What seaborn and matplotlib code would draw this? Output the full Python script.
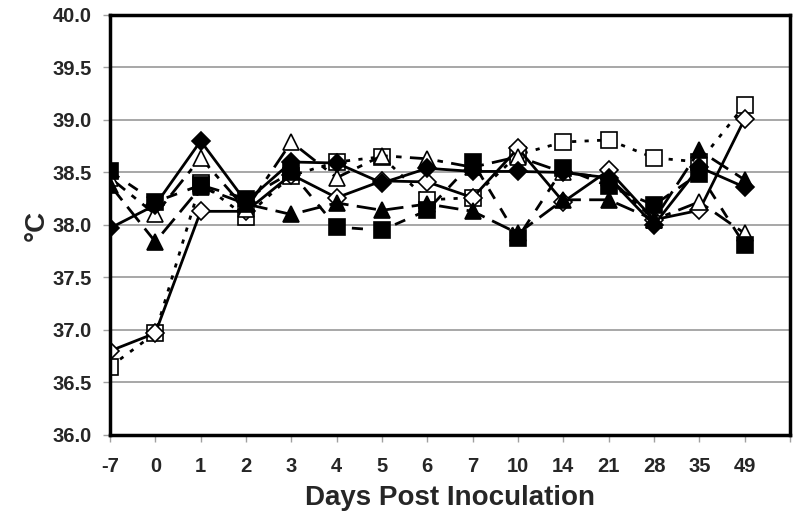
import numpy as np
import pandas as pd
import seaborn as sns
import matplotlib.pyplot as plt

days = ["-7", "0", "1", "2", "3", "4", "5", "6", "7", "10", "14", "21", "28", "35", "49"]

open_square = [36.65, 36.97, 38.40, 38.08, 38.47, 38.60, 38.65, 38.24, 38.26, 38.67, 38.79, 38.81, 38.64, 38.60, 39.14]
open_diamond = [36.80, 36.97, 38.13, 38.13, 38.48, 38.26, 38.42, 38.41, 38.26, 38.73, 38.22, 38.52, 38.05, 38.14, 39.01]
open_triangle = [38.45, 38.10, 38.64, 38.15, 38.79, 38.45, 38.66, 38.63, 38.55, 38.65, 38.50, 38.45, 38.05, 38.22, 37.92]
filled_triangle = [38.38, 37.84, 38.36, 38.20, 38.10, 38.21, 38.14, 38.20, 38.13, 37.92, 38.24, 38.24, 38.05, 38.71, 38.43]
filled_square = [38.51, 38.22, 38.38, 38.25, 38.50, 37.98, 37.95, 38.14, 38.60, 37.88, 38.54, 38.37, 38.19, 38.49, 37.81]
filled_diamond = [37.97, 38.19, 38.80, 38.22, 38.60, 38.59, 38.40, 38.54, 38.51, 38.51, 38.50, 38.45, 38.00, 38.55, 38.36]

# (values, marker, filled, linestyle, markersize)
series = [
    (open_square, "s", False, (0, (1.5, 3)), 11),
    (open_diamond, "D", False, "-", 9),
    (open_triangle, "^", False, (0, (7, 3, 2, 3)), 12),
    (filled_triangle, "^", True, (0, (7, 3)), 12),
    (filled_square, "s", True, (0, (4, 4)), 11),
    (filled_diamond, "D", True, "-", 9),
]

sns.set_style("white")
plt.rcParams["font.family"] = ["Liberation Sans", "DejaVu Sans"]
plt.rcParams["font.weight"] = "bold"

fig = plt.figure(figsize=(8, 5.22), dpi=100)
ax = fig.add_axes([0.1375, 0.1667, 0.85, 0.8046])

for vals, mk, filled, ls, ms in series:
    df = pd.DataFrame({"day": days, "temp": vals})
    sns.lineplot(
        data=df, x="day", y="temp", sort=False, ax=ax,
        color="black", linewidth=2.0, linestyle=ls,
        marker=mk, markersize=ms, markeredgewidth=1.2,
        markerfacecolor="black" if filled else "white",
        markeredgecolor="black",
    )

ax.set_ylim(36.0, 40.0)
ax.set_yticks(np.arange(36.0, 40.01, 0.5))
ax.set_yticklabels([f"{v:.1f}" for v in np.arange(36.0, 40.01, 0.5)], fontsize=14.5, fontweight="bold")
ax.set_xlim(0, len(days))
ax.set_xticks(np.arange(len(days) + 1))
ax.set_xticklabels(days + [""], fontsize=14.5, fontweight="bold")
ax.yaxis.grid(True, color="#a0a0a0", linewidth=1.3)
ax.set_axisbelow(True)

for s in ax.spines.values():
    s.set_color("black")
    s.set_linewidth(2.5)

ax.tick_params(axis="both", which="major", length=5, width=1, color="#a0a0a0",
               direction="out", bottom=True, left=True)
ax.tick_params(axis="x", pad=11)
ax.tick_params(axis="y", pad=8)

ax.set_xlabel("Days Post Inoculation", fontsize=20, fontweight="bold", labelpad=6)
ax.set_ylabel("°C", fontsize=20, fontweight="bold", labelpad=2)

fig.savefig("out.png", dpi=100)
